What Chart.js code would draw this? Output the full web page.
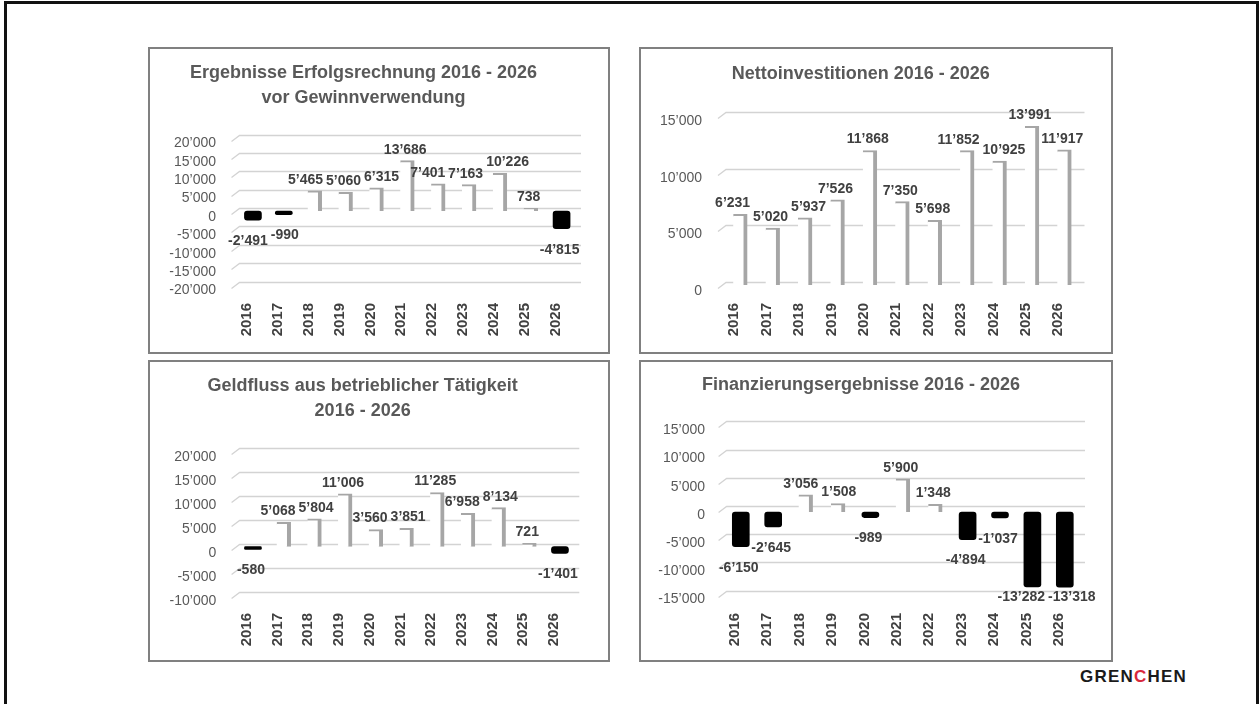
<!DOCTYPE html>
<html><head><meta charset="utf-8">
<script src="https://cdn.jsdelivr.net/npm/chart.js@4.4.1/dist/chart.umd.min.js"></script>
<style>
html,body{margin:0;padding:0;background:#fff;}
body{width:1259px;height:704px;position:relative;overflow:hidden;font-family:"Liberation Sans",Arial,sans-serif;}
#frame{position:absolute;left:4px;top:1px;width:1255px;height:730px;border:3px solid #111;box-sizing:border-box;}
.panel{position:absolute;border:2px solid #808080;box-sizing:border-box;}
canvas{position:absolute;}
#logo{position:absolute;left:1080px;top:667px;font:bold 17px "Liberation Sans",Arial,sans-serif;letter-spacing:1.2px;line-height:20px;color:#1a1a1a;}
#logo span{color:#d8283c;}
</style></head>
<body>
<div id="frame"></div>
<div class="panel" style="left:148px;top:47px;width:462px;height:307px"></div>
<div class="panel" style="left:639px;top:47px;width:474px;height:307px"></div>
<div class="panel" style="left:148px;top:360px;width:462px;height:302px"></div>
<div class="panel" style="left:639px;top:360px;width:474px;height:302px"></div>
<canvas id="c1"></canvas>
<canvas id="c2"></canvas>
<canvas id="c3"></canvas>
<canvas id="c4"></canvas>
<div id="logo">GREN<span>C</span>HEN</div>
<script>
const years = ['2016','2017','2018','2019','2020','2021','2022','2023','2024','2025','2026'];
const ergebnisse = [-2491, -990, 5465, 5060, 6315, 13686, 7401, 7163, 10226, 738, -4815];
const nettoinvestitionen = [6231, 5020, 5937, 7526, 11868, 7350, 5698, 11852, 10925, 13991, 11917];
const geldfluss = [-580, 5068, 5804, 11006, 3560, 3851, 11285, 6958, 8134, 721, -1401];
const finanzierung = [-6150, -2645, 3056, 1508, -989, 5900, 1348, -4894, -1037, -13282, -13318];

const title1 = ['Ergebnisse Erfolgsrechnung 2016 - 2026', 'vor Gewinnverwendung'];
const title2 = ['Nettoinvestitionen 2016 - 2026'];
const title3 = ['Geldfluss aus betrieblicher Tätigkeit', '2016 - 2026'];
const title4 = ['Finanzierungsergebnisse 2016 - 2026'];

function fmt(v){
  const s = Math.abs(Math.round(v)).toString().replace(/\B(?=(\d{3})+(?!\d))/g, '\u2019');
  return (v < 0 ? '-' : '') + s;
}

const FONT = '"Liberation Sans", Arial, sans-serif';

const gridPlugin = {
  id: 'grid3d',
  beforeDatasetsDraw(chart, args, opts) {
    const ys = chart.scales.y, a = chart.chartArea, ctx = chart.ctx;
    ctx.save();
    ctx.strokeStyle = '#d3d3d3';
    ctx.lineWidth = 1.3;
    ys.ticks.forEach(t => {
      const py = Math.round(ys.getPixelForValue(t.value) + opts.offset) + 0.5;
      ctx.beginPath();
      ctx.moveTo(a.left - 6, py + 6);
      ctx.lineTo(a.left + 2, py);
      ctx.lineTo(a.right + 4, py);
      ctx.stroke();
    });
    ctx.restore();
  }
};

const labelPlugin = {
  id: 'valueLabels',
  afterDatasetsDraw(chart) {
    const ctx = chart.ctx, area = chart.chartArea;
    ctx.save();
    ctx.font = 'bold 14px ' + FONT;
    ctx.fillStyle = '#404040';
    ctx.textAlign = 'center';
    ctx.textBaseline = 'middle';
    const items = [];
    chart.data.datasets.forEach((ds, di) => {
      const meta = chart.getDatasetMeta(di);
      meta.data.forEach((el, i) => {
        const v = ds.data[i];
        if (v === null || v === undefined) return;
        const t = fmt(v);
        const y = v >= 0 ? el.y - 11 : Math.min(el.y + 21, area.bottom + 1);
        items.push({i, t, x: el.x - 2, y, w: ctx.measureText(t).width});
      });
    });
    items.sort((a, b) => a.i - b.i);
    for (let pass = 0; pass < 4; pass++) {
      for (let k = 1; k < items.length; k++) {
        const a = items[k - 1], b = items[k];
        if (Math.abs(a.y - b.y) >= 14) continue;
        const ov = (a.x + a.w / 2 + 3) - (b.x - b.w / 2);
        if (ov > 0) { a.x -= ov / 2; b.x += ov / 2; }
      }
    }
    items.forEach(it => ctx.fillText(it.t, it.x, it.y));
    ctx.restore();
  }
};

function makeChart(id, L) {
  const cv = document.getElementById(id);
  cv.width = L.box.w; cv.height = L.box.h;
  cv.style.left = L.box.x + 'px'; cv.style.top = L.box.y + 'px';
  cv.style.width = L.box.w + 'px'; cv.style.height = L.box.h + 'px';
  const lh = 25;
  const padTop = L.titleY - L.box.y - lh / 2;
  const padBottom = (L.area.t - L.box.y) - padTop - L.title.length * lh;
  const pos = L.values.map(v => v >= 0 ? v : null);
  const neg = L.values.map(v => v < 0 ? v : null);
  return new Chart(cv, {
    type: 'bar',
    data: {
      labels: years,
      datasets: [
        {
          data: pos, grouped: false, barThickness: 14,
          backgroundColor: '#ffffff', borderColor: '#a6a6a6',
          borderWidth: {top: 2, right: 4, bottom: 0, left: 0}, borderSkipped: false
        },
        {
          data: neg, grouped: false, barThickness: 17,
          backgroundColor: '#000000', borderWidth: 0, borderRadius: 3, borderSkipped: false
        }
      ]
    },
    options: {
      responsive: false, animation: false, devicePixelRatio: 1,
      layout: {padding: {left: 0, top: 0, bottom: 0, right: L.box.x + L.box.w - L.area.r}},
      plugins: {
        legend: {display: false}, tooltip: {enabled: false},
        title: {
          display: true, text: L.title, color: '#595959',
          font: {family: FONT, size: 18, weight: 'bold', lineHeight: lh + 'px'},
          padding: {top: padTop, bottom: padBottom}
        },
        grid3d: {offset: L.gridOff}
      },
      scales: {
        x: {
          offset: true,
          grid: {display: false, drawTicks: false},
          border: {display: false},
          ticks: {
            color: '#404040', font: {family: FONT, size: 15, weight: 'bold'},
            minRotation: 90, maxRotation: 90, autoSkip: false,
            padding: L.xLabelTop - L.area.b, labelOffset: -6
          },
          afterFit(s) { s.height = L.box.y + L.box.h - L.area.b; }
        },
        y: {
          min: L.min, max: L.max,
          grid: {display: false, drawTicks: false},
          border: {display: false},
          ticks: {
            stepSize: 5000, autoSkip: false, color: '#595959', font: {family: FONT, size: 14},
            padding: L.area.l - L.labelRight, labelOffset: L.yLabelOff,
            callback: v => fmt(v)
          },
          afterFit(s) { s.width = L.area.l - L.box.x; }
        }
      }
    },
    plugins: [gridPlugin, labelPlugin]
  });
}

makeChart('c1', {box:{x:150,y:49,w:458,h:303}, area:{l:237.5,r:577,t:137.5,b:284.5},
  title:title1, titleY:73, labelRight:216, yLabelOff:6, gridOff:-3, xLabelTop:303,
  min:-20000, max:20000, values:ergebnisse});
makeChart('c2', {box:{x:641,y:49,w:470,h:303}, area:{l:724,r:1080.5,t:115,b:285},
  title:title2, titleY:74, labelRight:702, yLabelOff:6, gridOff:-3, xLabelTop:303,
  min:0, max:15000, values:nettoinvestitionen});
makeChart('c3', {box:{x:150,y:362,w:458,h:298}, area:{l:237.6,r:575.3,t:450.7,b:594.7},
  title:title3, titleY:386, labelRight:216.3, yLabelOff:6, gridOff:-3, xLabelTop:613,
  min:-10000, max:20000, values:geldfluss});
makeChart('c4', {box:{x:641,y:362,w:470,h:298}, area:{l:724.6,r:1081,t:427.4,b:596.6},
  title:title4, titleY:385.3, labelRight:705, yLabelOff:3, gridOff:-6, xLabelTop:613,
  min:-15000, max:15000, values:finanzierung});
</script>
</body></html>
